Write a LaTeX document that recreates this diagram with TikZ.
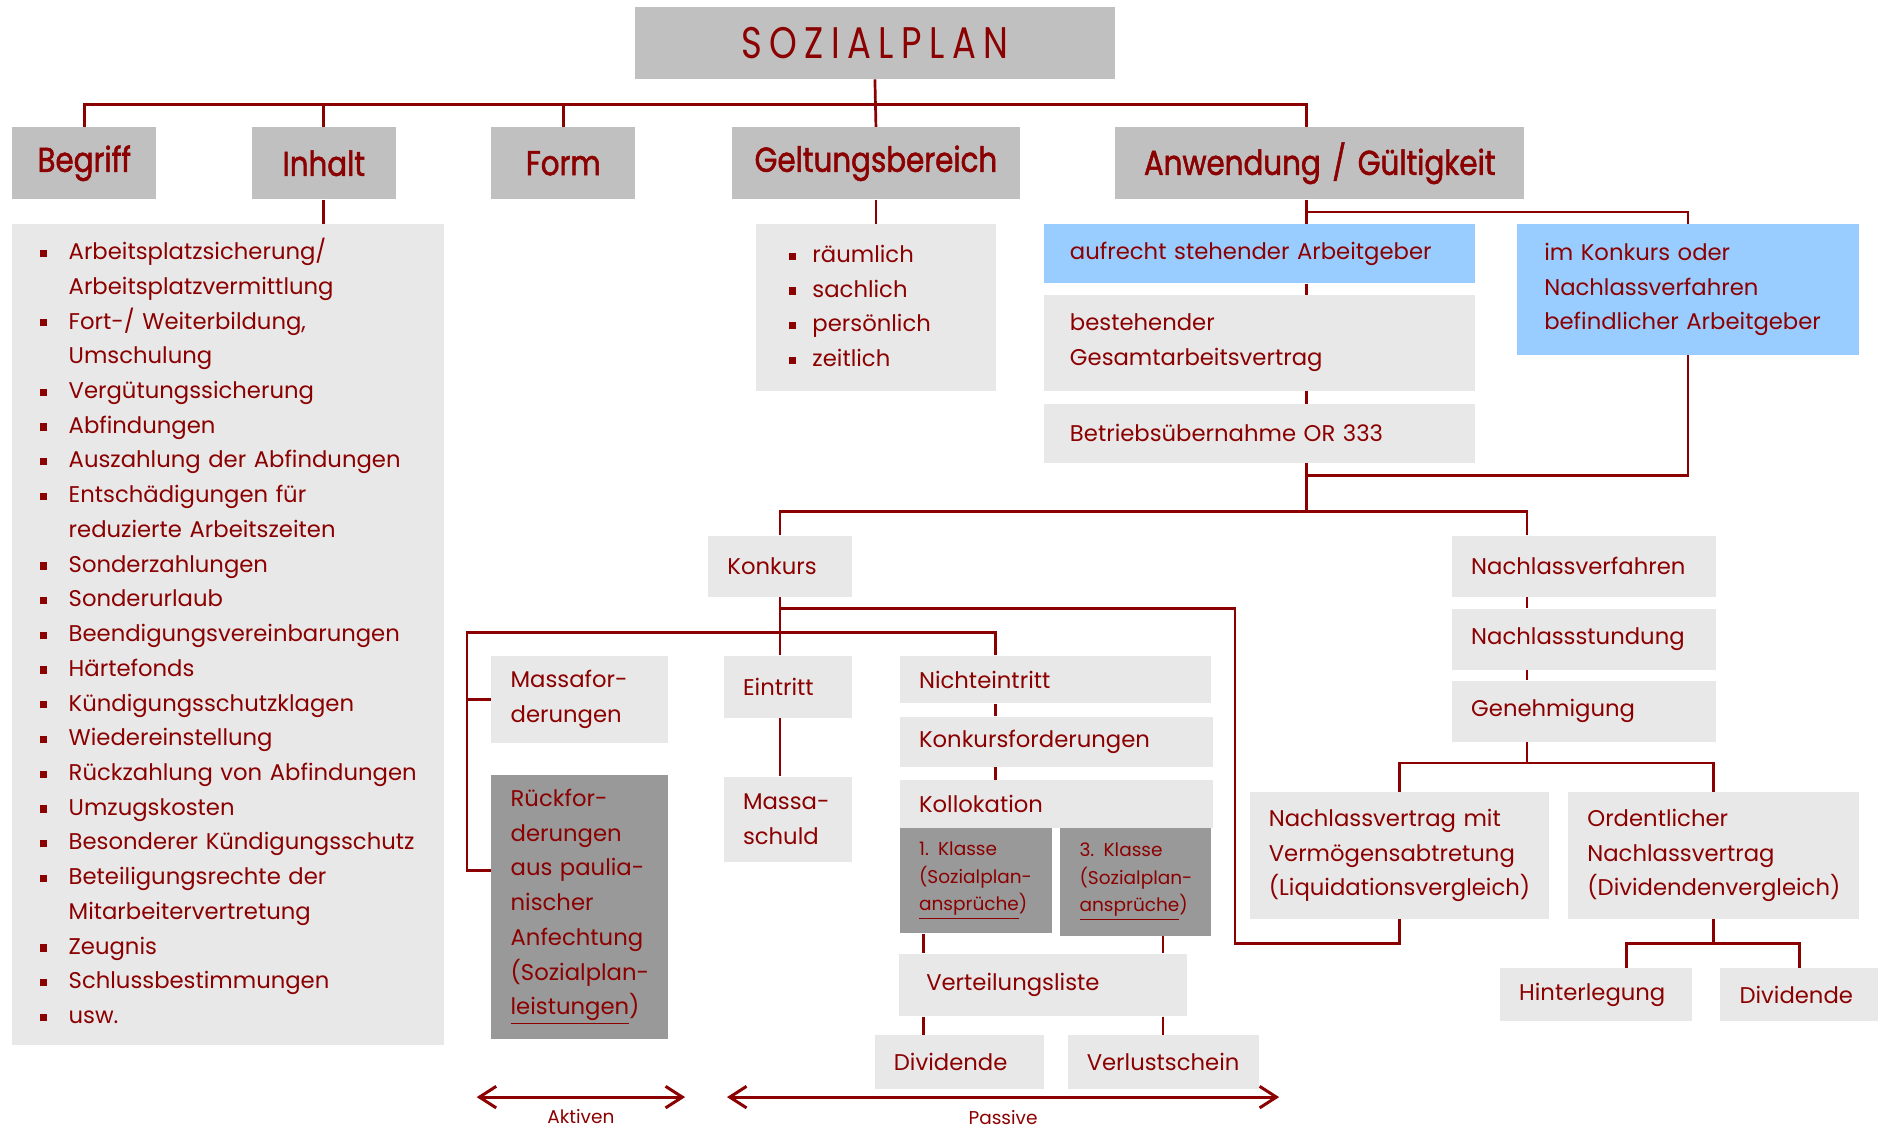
\documentclass[tikz,border=0pt]{standalone}
\usepackage{fontspec}
\setmainfont{Poppins}
\newfontfamily\hdfont[FakeStretch=0.85,FakeBold=1.5]{Poppins}
\newfontfamily\ttlfont[FakeStretch=0.8,LetterSpace=17]{Poppins}
\usetikzlibrary{arrows.meta}

\definecolor{dred}{HTML}{8B0000}
\definecolor{hdgray}{HTML}{C0C0C0}
\definecolor{ltgray}{HTML}{E8E8E8}
\definecolor{dkgray}{HTML}{999999}
\definecolor{ltblue}{HTML}{99CCFF}

\hyphenpenalty=10000
\exhyphenpenalty=10000

\newcommand\padpx{16}
\newcommand\sqb{\rule[1.2pt]{3.5pt}{3.5pt}}

\tikzset{
  pad/.code={\def\padpx{#1}},
  wh/.code 2 args={%
    \pgfmathsetlengthmacro\boxtw{(#1-2*\padpx)*0.2mm}%
    \pgfmathsetlengthmacro\boxh{#2*0.2mm}%
    \pgfmathsetlengthmacro\boxpad{\padpx*0.2mm}%
    \tikzset{text width=\boxtw, minimum height=\boxh, inner xsep=\boxpad}},
  box/.style={fill=ltgray, text=dred, anchor=north west, align=left, inner ysep=1pt,
    font=\fontsize{10.8}{16.5}\selectfont},
  hd/.style={box, fill=hdgray, align=center, font=\hdfont\fontsize{16.4}{18}\selectfont},
  klein/.style={font=\fontsize{8.8}{13}\selectfont},
  conn/.style={draw=dred, line width=0.45mm},
  pfeil/.style={draw=dred, line width=0.5mm,
    {Straight Barb[length=2.8mm,width=3.6mm]}-{Straight Barb[length=2.8mm,width=3.6mm]}},
  lbl/.style={text=dred, font=\fontsize{8.8}{10}\selectfont},
}

\begin{document}
\begin{tikzpicture}[x=0.2mm, y=-0.2mm]
  \useasboundingbox (0,0) rectangle (1568,942);

  % Kopf und erste Ebene
  \node[fill=hdgray, text=dred, minimum width=80.2mm, minimum height=12mm, inner sep=0pt,
    font=\ttlfont\fontsize{21}{24}\selectfont] (title) at (730.5,36) {SOZIALPLAN};
  \node[hd, wh={120}{60}] (begriff) at (10,106) {Begriff};
  \node[hd, wh={120}{60}] (inhalt) at (210,106) {Inhalt};
  \node[hd, wh={120}{60}] (form) at (410,106) {Form};
  \node[hd, wh={240}{60}] (geltung) at (611,106) {Geltungsbereich};
  \node[hd, wh={341}{60}] (anwendung) at (931,106) {Anwendung / Gültigkeit};

  % Listen
  \node[box, pad=23, wh={360}{685}] (inhaltlist) at (10,187) {%
    \begin{tabular}{@{}p{4.8mm}@{}l@{}}
      \sqb & Arbeitsplatzsicherung/\\
           & Arbeitsplatzvermittlung\\
      \sqb & Fort-/ Weiterbildung,\\
           & Umschulung\\
      \sqb & Vergütungssicherung\\
      \sqb & Abfindungen\\
      \sqb & Auszahlung der Abfindungen\\
      \sqb & Entschädigungen für\\
           & reduzierte Arbeitszeiten\\
      \sqb & Sonderzahlungen\\
      \sqb & Sonderurlaub\\
      \sqb & Beendigungsvereinbarungen\\
      \sqb & Härtefonds\\
      \sqb & Kündigungsschutzklagen\\
      \sqb & Wiedereinstellung\\
      \sqb & Rückzahlung von Abfindungen\\
      \sqb & Umzugskosten\\
      \sqb & Besonderer Kündigungsschutz\\
      \sqb & Beteiligungsrechte der\\
           & Mitarbeitervertretung\\
      \sqb & Zeugnis\\
      \sqb & Schlussbestimmungen\\
      \sqb & usw.
    \end{tabular}};
  \node[box, pad=27, wh={200}{139}] (geltlist) at (631,187) {%
    \begin{tabular}{@{}p{4mm}@{}l@{}}
      \sqb & räumlich\\
      \sqb & sachlich\\
      \sqb & persönlich\\
      \sqb & zeitlich
    \end{tabular}};

  % Anwendung / Gueltigkeit
  \node[box, fill=ltblue, pad=22, wh={360}{49}] (aufrecht) at (871,187) {aufrecht stehender Arbeitgeber};
  \node[box, pad=22, wh={360}{80}] (gav) at (871,246) {bestehender\\Gesamtarbeitsvertrag};
  \node[box, pad=22, wh={360}{49}] (betrieb) at (871,337) {Betriebsübernahme OR 333};
  \node[box, fill=ltblue, pad=23, wh={286}{109}] (imkonkurs) at (1266,187) {im Konkurs oder\\Nachlassverfahren\\befindlicher Arbeitgeber};

  % Nachlassverfahren
  \node[box, wh={220}{51}] (nachlass) at (1212,447) {Nachlassverfahren};
  \node[box, wh={220}{51}] (stundung) at (1212,508) {Nachlassstundung};
  \node[box, wh={220}{51}] (genehm) at (1212,568) {Genehmigung};
  \node[box, wh={250}{106}] (nvertrag) at (1043,661) {Nachlassvertrag mit\\Vermögensabtretung\\(Liquidationsvergleich)};
  \node[box, wh={243}{106}] (ordentl) at (1309,661) {Ordentlicher\\Nachlassvertrag\\(Dividendenvergleich)};
  \node[box, wh={160}{44}] (hinterl) at (1252,808) {Hinterlegung};
  \node[box, wh={132}{44}] (divr) at (1436,808) {Dividende};

  % Konkurs
  \node[box, wh={120}{51}] (konkurs) at (591,447) {Konkurs};
  \node[box, wh={147}{73}] (massaf) at (410,547) {Massafor-\\derungen};
  \node[box, fill=dkgray, wh={147}{220}] (rueck) at (410,647) {Rückfor-\\derungen\\aus paulia-\\nischer\\Anfechtung\\(Sozialplan-\\\underline{leistungen})};
  \node[box, wh={107}{52}] (eintritt) at (604,547) {Eintritt};
  \node[box, wh={107}{71}] (massaschuld) at (604,648) {Massa-\\schuld};
  \node[box, wh={260}{40}] (nicht) at (751,547) {Nichteintritt};
  \node[box, wh={261}{42}] (kfo) at (751,598) {Konkursforderungen};
  \node[box, wh={261}{40}] (koll) at (751,651) {Kollokation};
  \node[box, klein, fill=dkgray, wh={127}{88}] (kl1) at (751,691) {1. Klasse\\(Sozialplan-\\\underline{ansprüche})};
  \node[box, klein, fill=dkgray, wh={126}{90}] (kl3) at (885,691) {3. Klasse\\(Sozialplan-\\\underline{ansprüche})};
  \node[box, pad=23, wh={241}{52}] (vert) at (750,796) {Verteilungsliste};
  \node[box, wh={141}{45}] (divk) at (730,864) {Dividende};
  \node[box, wh={160}{45}] (verl) at (891,864) {Verlustschein};

  % Knickpunkte
  \coordinate (bus) at (731,87);
  \coordinate (aspine) at (1091,177);
  \coordinate (amerge) at (1091,397);
  \coordinate (asplit) at (1091,427);
  \coordinate (ncol) at (1275,427);
  \coordinate (nbus) at (1275,637);
  \coordinate (kbr) at (651,508);
  \coordinate (klinks) at (390,528);
  \coordinate (kstub) at (410,727);
  \coordinate (kcol) at (831,528);
  \coordinate (nvback) at (1031,788);
  \coordinate (obus) at (1432,788);
  \coordinate (hcol) at (1358,808);
  \coordinate (v1) at (771,780);
  \coordinate (v3) at (971,780);

  % Verbindungen
  \draw[conn] (title.south) -- (geltung.north);
  \draw[conn] (begriff.north) |- (bus) -| (anwendung.north -| aspine);
  \draw[conn] (inhalt.north) -- (inhalt.north |- bus);
  \draw[conn] (form.north) -- (form.north |- bus);
  \draw[conn] (inhalt.south) -- (inhalt.south |- inhaltlist.north);
  \draw[conn] (geltung.south) -- (geltlist.north);
  \draw[conn] (anwendung.south -| aspine) -- (aufrecht.north -| aspine);
  \draw[conn] (aspine) -| (imkonkurs.north);
  \draw[conn] (aufrecht.south -| aspine) -- (gav.north -| aspine);
  \draw[conn] (gav.south -| aspine) -- (betrieb.north -| aspine);
  \draw[conn] (betrieb.south -| aspine) -- (asplit);
  \draw[conn] (imkonkurs.south) |- (amerge);
  \draw[conn] (konkurs.north) |- (asplit) -- (ncol) -- (nachlass.north -| ncol);
  \draw[conn] (nachlass.south -| ncol) -- (stundung.north -| ncol);
  \draw[conn] (stundung.south -| ncol) -- (genehm.north -| ncol);
  \draw[conn] (genehm.south -| ncol) -- (nbus);
  \draw[conn] (nvertrag.north) |- (nbus) -| (ordentl.north);
  \draw[conn] (ordentl.south) -- (ordentl.south |- obus);
  \draw[conn] (hinterl.north -| hcol) |- (obus) -| (divr.north);
  \draw[conn] (konkurs.south) -- (konkurs.south |- eintritt.north);
  \draw[conn] (eintritt.south -| konkurs.south) -- (massaschuld.north -| konkurs.south);
  \draw[conn] (kbr) -| (nvback) -| (nvertrag.south);
  \draw[conn] (nicht.north -| kcol) |- (klinks) |- (kstub);
  \draw[conn] (klinks) |- (massaf.west);
  \draw[conn] (nicht.south -| kcol) -- (kfo.north -| kcol);
  \draw[conn] (kfo.south -| kcol) -- (koll.north -| kcol);
  \draw[conn] (kl1.south -| v1) -- (vert.north -| v1);
  \draw[conn] (kl3.south -| v3) -- (vert.north -| v3);
  \draw[conn] (vert.south -| v1) -- (divk.north -| v1);
  \draw[conn] (vert.south -| v3) -- (verl.north -| v3);

  % Aktiven / Passive
  \coordinate (akl) at (398,916);
  \coordinate (akr) at (572,916);
  \coordinate (pal) at (607,916);
  \coordinate (par) at (1068,916);
  \draw[pfeil] (akl) -- (akr) node[lbl, midway, yshift=-3.2mm] (aktiv) {Aktiven};
  \draw[pfeil] (pal) -- (par) node[lbl, midway, yshift=-3.4mm] (passiv) {Passive};
\end{tikzpicture}
\end{document}
